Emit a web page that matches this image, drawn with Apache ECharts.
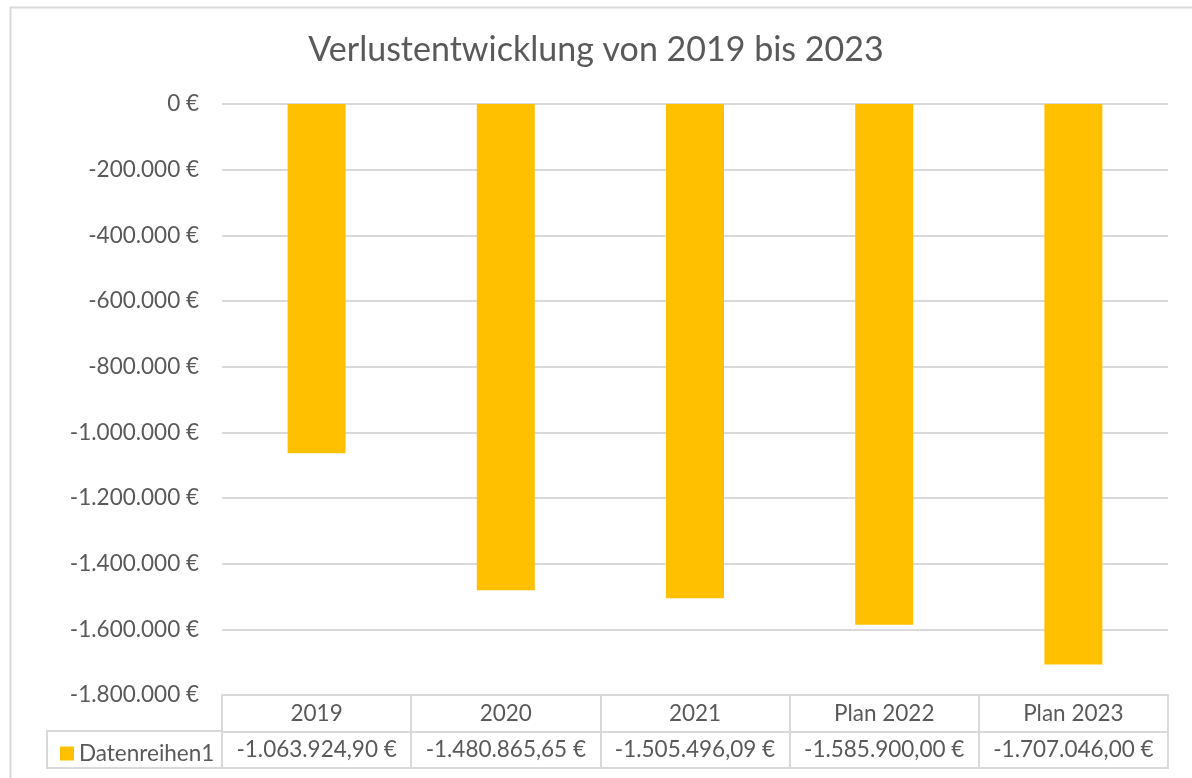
<!DOCTYPE html>
<html><head><meta charset="utf-8">
<script src="https://cdn.jsdelivr.net/npm/echarts@6/dist/echarts.min.js"></script>
<style>html,body{margin:0;padding:0;background:#fff}#c{width:1192px;height:778px}</style>
</head><body><div id="c"></div>
<script>
const chartTitle = 'Verlustentwicklung von 2019 bis 2023';
const seriesName = 'Datenreihen1';
const categories = ['2019', '2020', '2021', 'Plan 2022', 'Plan 2023'];
const values = [-1063924.90, -1480865.65, -1505496.09, -1585900.00, -1707046.00];
const yMin = -1800000, yMax = 0, yStep = 200000;

function fmtDE(v, dec) {
  const neg = v < 0;
  const s = Math.abs(v).toFixed(dec);
  const parts = s.split('.');
  const intPart = parts[0].replace(/\B(?=(\d{3})+(?!\d))/g, '.');
  return (neg ? '-' : '') + intPart + (dec ? ',' + parts[1] : '') + ' €';
}
const valueLabels = values.map(v => fmtDE(v, 2));

const FONT = 'Lato, "Open Sans", sans-serif';
const TXT = '#595959';
const LINE = '#d9d9d9';
const FS = 22.5;

const chart = echarts.init(document.getElementById('c'), null, {renderer: 'canvas'});
chart.setOption({
  animation: false,
  backgroundColor: '#fff',
  textStyle: {fontFamily: FONT},
  title: {
    text: chartTitle, left: 'center', top: 28,
    textStyle: {fontFamily: FONT, fontSize: 34, fontWeight: 'normal', color: TXT}
  },
  legend: {
    data: [seriesName], left: 60, top: 742, padding: 0,
    icon: 'rect', itemWidth: 14, itemHeight: 14,
    textStyle: {fontFamily: FONT, fontSize: FS, color: TXT}
  },
  graphic: [{
    type: 'rect', left: 8, top: 5, shape: {width: 1300, height: 900},
    style: {fill: 'none', stroke: LINE, lineWidth: 2}, silent: true
  }],
  grid: [
    {left: 222, right: 24, top: 104, height: 591},
    {left: 222, right: 24, top: 695, height: 73, show: true, borderColor: LINE, borderWidth: 2, backgroundColor: 'transparent'},
    {left: 47, width: 175, top: 731, height: 37, show: true, borderColor: LINE, borderWidth: 2, backgroundColor: 'transparent'}
  ],
  xAxis: [
    {gridIndex: 0, type: 'category', position: 'bottom', data: categories, axisLine: {show: false}, axisTick: {show: false},
     axisLabel: {margin: 7, fontSize: FS, color: TXT, fontFamily: FONT, interval: 0}},
    {gridIndex: 0, type: 'category', position: 'bottom', data: valueLabels, offset: 36, axisLine: {show: false}, axisTick: {show: false},
     axisLabel: {margin: 7, fontSize: FS, color: TXT, fontFamily: FONT, interval: 0}},
    {gridIndex: 1, type: 'category', position: 'bottom', data: categories, axisLine: {show: false}, axisTick: {show: false},
     axisLabel: {show: false}, splitLine: {show: true, interval: 0, lineStyle: {color: LINE, width: 2}}},
    {gridIndex: 2, type: 'category', data: [seriesName], show: false}
  ],
  yAxis: [
    {gridIndex: 0, type: 'value', min: yMin, max: yMax, interval: yStep,
     axisLine: {show: false}, axisTick: {show: false},
     splitLine: {lineStyle: {color: LINE, width: 2}},
     axisLabel: {margin: 23, fontSize: FS, color: TXT, fontFamily: FONT, formatter: v => fmtDE(v, 0)}},
    {gridIndex: 1, type: 'value', min: 0, max: 2, interval: 1,
     axisLine: {show: false}, axisTick: {show: false}, axisLabel: {show: false},
     splitLine: {show: true, lineStyle: {color: LINE, width: 2}}},
    {gridIndex: 2, type: 'value', show: false, min: 0, max: 1}
  ],
  series: [{
    name: seriesName, type: 'bar', xAxisIndex: 0, yAxisIndex: 0,
    data: values, barWidth: 58, itemStyle: {color: '#FFC000'}
  }]
});
</script></body></html>
